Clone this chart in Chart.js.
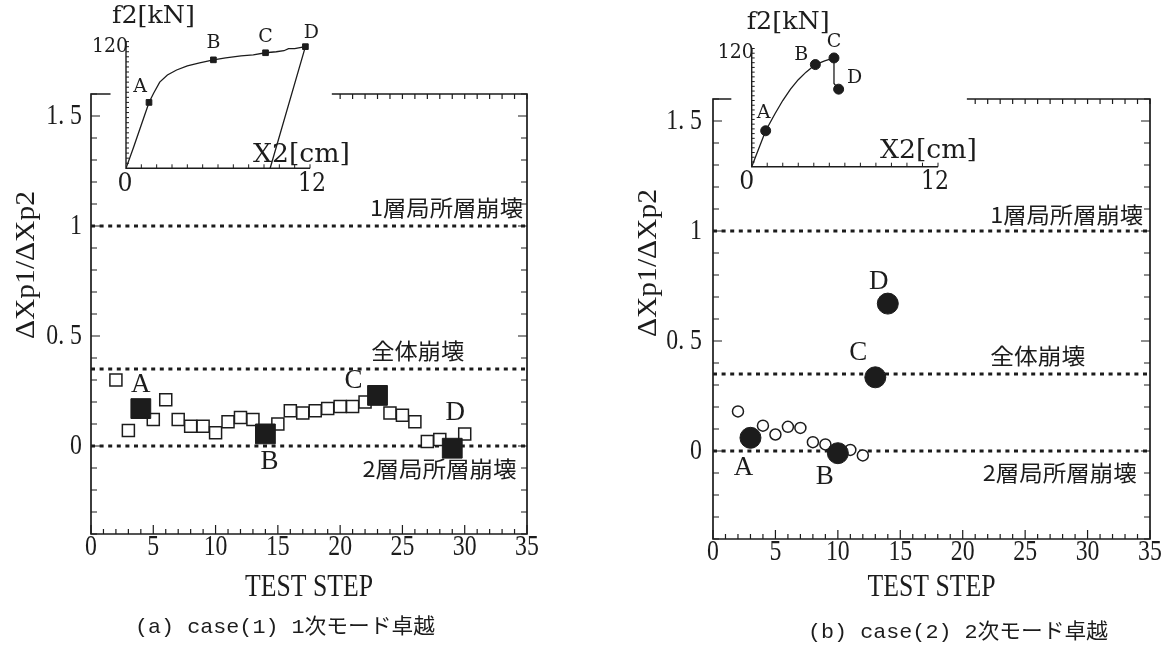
<!DOCTYPE html>
<html><head><meta charset="utf-8">
<script src="https://cdn.jsdelivr.net/npm/chart.js@4.4.1/dist/chart.umd.min.js"></script>
<style>
html,body{margin:0;padding:0;background:#fff;}
#wrap{position:relative;width:1163px;height:665px;overflow:hidden;background:#fff;}
canvas{position:absolute;}
</style></head><body>
<div id="wrap">
<canvas id="mainL" width="581" height="665" style="left:0;top:0;width:581px;height:665px"></canvas>
<canvas id="mainR" width="582" height="665" style="left:581px;top:0;width:582px;height:665px"></canvas>
<canvas id="insetL" width="360" height="210" style="left:0;top:0;width:360px;height:210px"></canvas>
<canvas id="insetR" width="400" height="210" style="left:600px;top:0;width:400px;height:210px"></canvas>
</div>
<script>
// ---------- data ----------
const keyLabels = ['A', 'B', 'C', 'D'];
const thresholdValues = [1, 0.35, 0];
const thresholdLabels = ['1層局所層崩壊', '全体崩壊', '2層局所層崩壊'];
const xTickValues = [0, 5, 10, 15, 20, 25, 30, 35];
const yTickValues = [0, 0.5, 1, 1.5];
const yTickLabels = ['0', '0. 5', '1', '1. 5'];
const xTitle = 'TEST STEP';
const yTitle = 'ΔXp1/ΔXp2';
const captionLeft = '(a) case(1) 1次モード卓越';
const captionRight = '(b) case(2) 2次モード卓越';

// panel (a) case(1)
const leftOpenSteps = [2, 3, 5, 6, 7, 8, 9, 10, 11, 12, 13, 15, 16, 17, 18, 19, 20, 21, 22, 24, 25, 26, 27, 28, 30];
const leftOpenRatio = [0.30, 0.07, 0.12, 0.21, 0.12, 0.09, 0.09, 0.06, 0.11, 0.13, 0.12, 0.10, 0.16, 0.15, 0.16, 0.17, 0.18, 0.18, 0.20, 0.15, 0.14, 0.11, 0.02, 0.03, 0.055];
const leftKeySteps = [4, 14, 23, 29];
const leftKeyRatio = [0.17, 0.055, 0.23, -0.01];

// panel (b) case(2)
const rightOpenSteps = [2, 4, 5, 6, 7, 8, 9, 11, 12];
const rightOpenRatio = [0.18, 0.115, 0.075, 0.11, 0.105, 0.04, 0.03, 0.005, -0.02];
const rightKeySteps = [3, 10, 13, 14];
const rightKeyRatio = [0.06, -0.01, 0.335, 0.67];

// insets: f2[kN] vs X2[cm]
const insetXTickLabels = ['0', '12'];
const insetYTickLabel = '120';
const insetXTitle = 'X2[cm]';
const insetYTitle = 'f2[kN]';
const insetLeftX = [0, 0.5, 1, 1.5, 1.8, 2.2, 2.7, 3.3, 4, 4.8, 5.7, 6.5, 7.5, 8.3, 9.1, 9.8, 10.3, 10.6, 11, 11.7, 9.4];
const insetLeftF = [0, 21, 43, 65, 74, 85, 92, 97, 101, 104, 107, 109, 111, 112, 114, 115, 116, 118, 118, 120, 0];
const insetLeftKeyX = [1.5, 5.7, 9.1, 11.7];
const insetLeftKeyF = [65, 107, 114, 120];
const insetRightX = [0, 0.45, 0.9, 1.5, 2, 2.5, 3, 3.5, 4.1, 4.7, 5.3, 5.3, 5.6];
const insetRightF = [0, 19, 38, 56, 70, 82, 92, 100, 108, 112, 115, 88, 82];
const insetRightKeyX = [0.9, 4.1, 5.3, 5.6];
const insetRightKeyF = [38, 108, 115, 82];

// ---------- helpers ----------
const INK = '#1c1c1c';
const pts = (xs, ys) => xs.map((x, i) => ({x: x, y: ys[i]}));

function txt(ctx, s, x, y, font, w, align, rot, sxFixed) {
  ctx.save();
  ctx.font = font;
  ctx.fillStyle = INK;
  ctx.textBaseline = 'middle';
  ctx.textAlign = align || 'center';
  const m = ctx.measureText(s).width;
  const sx = sxFixed ? sxFixed : (w ? w / m : 1);
  ctx.translate(x, y);
  if (rot) ctx.rotate(rot);
  ctx.scale(sx, 1);
  ctx.fillText(s, 0, 0);
  ctx.restore();
}

function mainChart(id, cfg) {
  const datasets = [
    {label: 'key', data: pts(cfg.keyX, cfg.keyY), pointStyle: cfg.style, pointRadius: cfg.keyR,
     backgroundColor: INK, borderColor: INK, borderWidth: 1, showLine: false, order: 0},
    {label: 'steps', data: pts(cfg.openX, cfg.openY), pointStyle: cfg.style, pointRadius: cfg.openR,
     backgroundColor: '#fff', borderColor: INK, borderWidth: 1.5, showLine: false, order: 1}
  ];
  thresholdValues.forEach((v, i) => {
    datasets.push({label: thresholdLabels[i], data: [{x: 0, y: v}, {x: 35, y: v}], showLine: true,
      borderColor: INK, borderWidth: 3, borderDash: [4, 4.6], borderCapStyle: 'butt',
      pointRadius: 0, fill: false, order: 2});
  });
  const decor = {
    id: 'decor_' + id,
    beforeDatasetsDraw(chart) {
      const ctx = chart.ctx, xs = chart.scales.x, ys = chart.scales.y;
      const L = xs.getPixelForValue(0), R = xs.getPixelForValue(35);
      const T = ys.getPixelForValue(1.6), B = ys.getPixelForValue(-0.4);
      ctx.save();
      ctx.strokeStyle = INK; ctx.lineWidth = 1.7; ctx.lineCap = 'square';
      ctx.beginPath();
      ctx.moveTo(xs.getPixelForValue(cfg.topGapEnd), T); ctx.lineTo(R, T); ctx.lineTo(R, B); ctx.lineTo(L, B); ctx.lineTo(L, T);
      ctx.lineTo(xs.getPixelForValue(cfg.topStub), T);
      ctx.stroke();
      ctx.lineWidth = 1.2; ctx.lineCap = 'butt';
      ctx.beginPath();
      for (let k = -4; k <= 16; k++) {
        const y = ys.getPixelForValue(k / 10);
        const len = (k % 5 === 0) ? 9 : 6;
        ctx.moveTo(L, y); ctx.lineTo(L + len, y);
        ctx.moveTo(R, y); ctx.lineTo(R - len, y);
      }
      for (let k = 0; k <= 35; k++) {
        const x = xs.getPixelForValue(k);
        const len = (k % 5 === 0) ? 9 : 5;
        ctx.moveTo(x, B); ctx.lineTo(x, B - len);
        if (k >= cfg.topGapEnd) { ctx.moveTo(x, T); ctx.lineTo(x, T + 5); }
      }
      ctx.stroke();
      ctx.restore();
    },
    afterDraw(chart) {
      const ctx = chart.ctx, xs = chart.scales.x, ys = chart.scales.y;
      const L = xs.getPixelForValue(0), B = ys.getPixelForValue(-0.4);
      const tickFont = '29px "Liberation Serif"';
      xs.ticks.forEach((t) => {
        txt(ctx, String(t.label), xs.getPixelForValue(t.value), B + 13, tickFont, null, 'center', 0, 0.82);
      });
      ys.ticks.forEach((t) => {
        txt(ctx, String(t.label), L - cfg.yPad, ys.getPixelForValue(t.value), tickFont, null, 'right', 0, 0.82);
      });
      const cjk = '22px "Noto Sans CJK JP"';
      thresholdValues.forEach((v, i) => {
        txt(ctx, thresholdLabels[i], xs.getPixelForValue(cfg.thrX[i]), ys.getPixelForValue(v) + cfg.thrDy[i],
            cjk, cfg.thrW[i], 'left');
      });
      keyLabels.forEach((s, i) => {
        txt(ctx, s, xs.getPixelForValue(cfg.keyX[i]) + cfg.lblOff[i][0], ys.getPixelForValue(cfg.keyY[i]) + cfg.lblOff[i][1],
            '27px "Liberation Serif"', null, 'center');
      });
      const cx = (xs.getPixelForValue(0) + xs.getPixelForValue(35)) / 2;
      txt(ctx, xTitle, cx, 588, '31px "Liberation Serif"', 128, 'center');
      txt(ctx, cfg.caption, cfg.capX, cfg.capY, '21px "Liberation Mono", "Noto Sans CJK JP"', 300, 'center');
      txt(ctx, yTitle, cfg.yTitleX, cfg.yTitleY, '28px "Liberation Serif"', 148, 'center', -Math.PI / 2);
    }
  };
  return new Chart(document.getElementById(id), {
    type: 'scatter',
    data: {datasets: datasets},
    options: {
      responsive: false, animation: false, devicePixelRatio: 1, events: [],
      layout: {padding: {left: 0, right: cfg.padR, top: cfg.padT, bottom: cfg.padB}, autoPadding: false},
      plugins: {legend: {display: false}, tooltip: {enabled: false}},
      scales: {
        x: {type: 'linear', min: 0, max: 35,
            afterFit: s => { s.height = 40; },
            afterBuildTicks: s => { s.ticks = xTickValues.map(v => ({value: v})); },
            grid: {display: false, drawTicks: false}, border: {display: false},
            ticks: {display: false, autoSkip: false, callback: v => String(v)}},
        y: {type: 'linear', min: -0.4, max: 1.6,
            afterFit: s => { s.width = cfg.yW; },
            afterBuildTicks: s => { s.ticks = yTickValues.map(v => ({value: v})); },
            grid: {display: false, drawTicks: false}, border: {display: false},
            ticks: {display: false, autoSkip: false, callback: (v, i) => yTickLabels[i]}}
      }
    },
    plugins: [decor]
  });
}

function insetChart(id, cfg) {
  const decor = {
    id: 'idecor_' + id,
    beforeDatasetsDraw(chart) {
      const ctx = chart.ctx, xs = chart.scales.x, ys = chart.scales.y;
      const L = xs.getPixelForValue(0), R = xs.getPixelForValue(12);
      const T = ys.getPixelForValue(125), B = ys.getPixelForValue(0);
      ctx.save();
      ctx.strokeStyle = INK; ctx.lineWidth = 1.4;
      ctx.beginPath(); ctx.moveTo(L, T); ctx.lineTo(L, B); ctx.lineTo(R, B); ctx.stroke();
      ctx.lineWidth = 1; ctx.beginPath();
      for (let f = 5; f <= 125; f += 5) { const y = ys.getPixelForValue(f); ctx.moveTo(L, y); ctx.lineTo(L + 3, y); }
      for (let c = 1; c <= 12; c++) { const x = xs.getPixelForValue(c); ctx.moveTo(x, B); ctx.lineTo(x, B - 4); }
      ctx.stroke();
      ctx.restore();
    },
    afterDraw(chart) {
      const ctx = chart.ctx, xs = chart.scales.x, ys = chart.scales.y;
      const L = xs.getPixelForValue(0), R = xs.getPixelForValue(12);
      const T = ys.getPixelForValue(125), B = ys.getPixelForValue(0);
      const f = '"DejaVu Serif"';
      txt(ctx, insetYTitle, L + cfg.yTitleDx, T + cfg.yTitleDy, '25px ' + f, 83, 'left');
      txt(ctx, insetYTickLabel, L + 2, ys.getPixelForValue(120), '20px ' + f, 36, 'right');
      txt(ctx, insetXTickLabels[0], L + cfg.zeroDx, B + 16, '26px ' + f, 15, 'center');
      txt(ctx, insetXTickLabels[1], R + cfg.twelveDx, B + 16, '26px ' + f, 28, 'center');
      txt(ctx, insetXTitle, R + cfg.xTitleDx, B + cfg.xTitleDy, '26px ' + f, 97, 'right');
      keyLabels.forEach((s, i) => {
        txt(ctx, s, xs.getPixelForValue(cfg.keyX[i]) + cfg.lblOff[i][0], ys.getPixelForValue(cfg.keyY[i]) + cfg.lblOff[i][1],
            '19px ' + f, null, 'center');
      });
    }
  };
  return new Chart(document.getElementById(id), {
    type: 'scatter',
    data: {datasets: [
      {label: 'key', data: pts(cfg.keyX, cfg.keyY), pointStyle: cfg.style, pointRadius: cfg.keyR,
       backgroundColor: INK, borderColor: INK, borderWidth: 1, showLine: false, order: 0},
      {label: 'curve', data: pts(cfg.curveX, cfg.curveY), showLine: true, borderColor: INK, borderWidth: 1.3,
       pointRadius: 0, tension: 0, fill: false, order: 1}
    ]},
    options: {
      responsive: false, animation: false, devicePixelRatio: 1, events: [],
      layout: {padding: cfg.pad, autoPadding: false},
      plugins: {legend: {display: false}, tooltip: {enabled: false}},
      scales: {
        x: {type: 'linear', min: 0, max: 12, display: false},
        y: {type: 'linear', min: 0, max: 125, display: false}
      }
    },
    plugins: [decor]
  });
}

// ---------- charts ----------
mainChart('mainL', {
  keyX: leftKeySteps, keyY: leftKeyRatio, openX: leftOpenSteps, openY: leftOpenRatio,
  style: 'rect', keyR: 14, openR: 8.5,
  padR: 54, padT: 94, padB: 91, yW: 91, yPad: 9,
  topGapEnd: 19.4, topStub: 1.5,
  thrX: [22.4, 22.5, 21.8], thrDy: [-18, -18, 23], thrW: [153, 93, 154],
  lblOff: [[0, -24], [4, 28], [-24, -14], [3, -35]],
  caption: captionLeft, capX: 285, capY: 627,
  yTitleX: 27, yTitleY: 265
});
mainChart('mainR', {
  keyX: rightKeySteps, keyY: rightKeyRatio, openX: rightOpenSteps, openY: rightOpenRatio,
  style: 'circle', keyR: 10.5, openR: 5.5,
  padR: 13, padT: 99, padB: 86, yW: 132, yPad: 11,
  topGapEnd: 20.4, topStub: 1.4,
  thrX: [22.2, 22.2, 21.6], thrDy: [-16, -18, 22], thrW: [153, 95, 154],
  lblOff: [[-7, 30], [-13, 24], [-17, -24], [-9, -22]],
  caption: captionRight, capX: 958 - 581, capY: 632,
  yTitleX: 649 - 581, yTitleY: 263
});
insetChart('insetL', {
  keyX: insetLeftKeyX, keyY: insetLeftKeyF, curveX: insetLeftX, curveY: insetLeftF,
  style: 'rect', keyR: 4,
  pad: {left: 126, right: 50, top: 41.6, bottom: 41.7},
  yTitleDx: -14, yTitleDy: -25, zeroDx: -1, twelveDx: 2, xTitleDx: 40, xTitleDy: -13,
  lblOff: [[-9, -15], [0, -17], [0, -16], [6, -14]]
});
insetChart('insetR', {
  keyX: insetRightKeyX, keyY: insetRightKeyF, curveX: insetRightX, curveY: insetRightF,
  style: 'circle', keyR: 5,
  pad: {left: 151.7, right: 62, top: 48.5, bottom: 43.3},
  yTitleDx: -5, yTitleDy: -26, zeroDx: -5, twelveDx: -3, xTitleDx: 39, xTitleDy: -15,
  lblOff: [[-2, -18], [-14, -10], [0, -16], [16, -11]]
});
</script>
</body></html>
